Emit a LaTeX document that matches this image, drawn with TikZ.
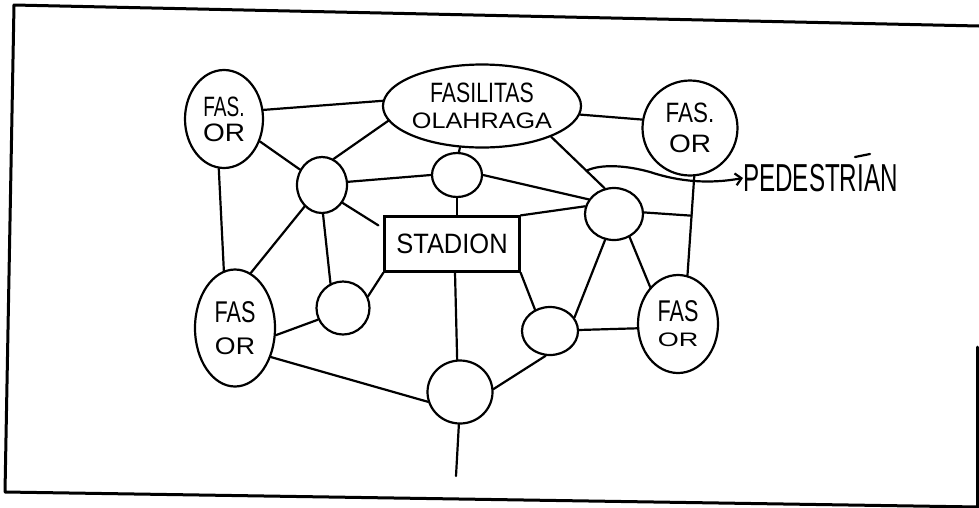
\documentclass[tikz,border=0pt]{standalone}
\usepackage{fontspec}
\setmainfont{Liberation Sans}
\usepackage{graphicx}
\usetikzlibrary{shapes.geometric,arrows.meta,calc}
\begin{document}
\begin{tikzpicture}[x=1pt,y=-1pt,
  ln/.style={line width=2.2pt, line cap=round},
  blob/.style={ellipse, draw, line width=2.2pt, inner sep=0pt, align=center},
  frame/.style={line width=3pt, line cap=round, line join=round}]
\useasboundingbox (0,0) rectangle (979,507);
\fill[white] (0,0) rectangle (979,507);
% frame
\draw[frame] (979,26) -- (14,5) -- (5,492) -- (979,507);
\draw[frame] (977,347) -- (977,507);
% nodes
\node[blob, minimum width=78pt, minimum height=98pt, font=\fontsize{28}{25}\selectfont] (ftl) at (224,119) {\scalebox{0.68}[1]{FAS.}\\\scalebox{1}[0.9]{OR}};
\node[blob, minimum width=171pt, minimum height=83pt, font=\fontsize{28}{26}\selectfont] (fasil) at (482,106) {\scalebox{0.76}[1]{FASILITAS}\\\scalebox{0.9}[0.8]{OLAHRAGA}};
\node[blob, minimum width=95pt, minimum height=95pt, font=\fontsize{28}{30}\selectfont] (ftr) at (690,128) {\scalebox{0.8}[1]{FAS.}\\\scalebox{1}[0.9]{OR}};
\node[blob, minimum width=50pt, minimum height=44pt] (ctop) at (457,175) {};
\node[blob, minimum width=50pt, minimum height=56pt] (cleft) at (322,185) {};
\node[blob, minimum width=58pt, minimum height=52pt] (cright) at (614,214) {};
\node[draw, line width=2.2pt, minimum width=135pt, minimum height=55pt, inner sep=0pt, font=\fontsize{28}{28}\selectfont] (stad) at (452,244) {\scalebox{0.91}[1]{STADION}};
\node[blob, minimum width=80pt, minimum height=117pt, font=\fontsize{30}{32}\selectfont] (fbl) at (235,328) {\scalebox{0.72}[1]{FAS}\\\scalebox{0.89}[0.8]{OR}};
\node[blob, minimum width=53pt, minimum height=53pt] (cll) at (343,308) {};
\node[blob, minimum width=65pt, minimum height=63pt] (cbot) at (460,392) {};
\node[blob, minimum width=56pt, minimum height=48pt] (clr) at (550,331) {};
\node[blob, minimum width=80pt, minimum height=98pt, font=\fontsize{30}{25}\selectfont] (fbr) at (678,324) {\scalebox{0.72}[1]{FAS}\\\scalebox{0.9}[0.65]{OR}};
\node[inner sep=0pt, anchor=west, font=\fontsize{39}{39}\selectfont] (ped) at (743,178) {\scalebox{0.62}[1]{PEDESTRIAN}};
\coordinate (dn) at (456,476);
% connectors
\draw[ln] (ftl.13) -- (fasil.177);
\draw[ln] (ftl.-32) -- (cleft.145);
\draw[ln] (ftl.-96) -- (fbl.101);
\draw[ln] (fasil.189) -- (cleft.66);
\draw[ln] (fasil.-118) -- (ctop.85);
\draw[ln] (fasil.-5) -- (ftr.170);
\draw[ln] (fasil.-24) -- (cright.110);
\draw[ln] (cleft.7) -- (ctop.180);
\draw[ln] (ctop.0) -- (cright.150);
\draw[ln] (ctop.-90) -- (ctop.-90 |- stad.north);
\draw[ln] (cleft.-41) -- ([xshift=-5pt,yshift=-10pt]stad.north west);
\draw[ln] (cleft.-88) -- (cll.117);
\draw[ln] (cleft.-129) -- (fbl.74);
\draw[ln] (stad.north east) -- (cright.165);
\draw[ln] (stad.south west) -- (cll.25);
\draw[ln] ([xshift=3pt]stad.south) -- (cbot.95);
\draw[ln] (stad.south east) -- (clr.125);
\draw[ln] (cll.-155) -- (fbl.-10);
\draw[ln] (fbl.-39) -- (cbot.197);
\draw[ln] (cbot.5) -- (clr.-100);
\draw[ln] (cbot.-92) -- (dn);
\draw[ln] (clr.29) -- (cright.-109);
\draw[ln] (clr.2) -- (fbr.186);
\draw[ln] (cright.-56) -- (fbr.127);
\draw[ln] (ftr.-85) -- (fbr.79);
\coordinate (jn) at ($(ftr.-85)!(cright.3)!(fbr.79)$);
\draw[ln] (cright.3) -- (jn);
\coordinate (ps) at ($(fasil.-24)!0.66!(cright.110)$);
\draw[ln, -{Straight Barb[length=6pt,width=12pt]}] (ps) .. controls (600,164) and (625,165) .. (650,172) .. controls (680,182) and (710,184) .. (ped.west);
\draw[ln] (855,157) -- (870,154);
\end{tikzpicture}
\end{document}
